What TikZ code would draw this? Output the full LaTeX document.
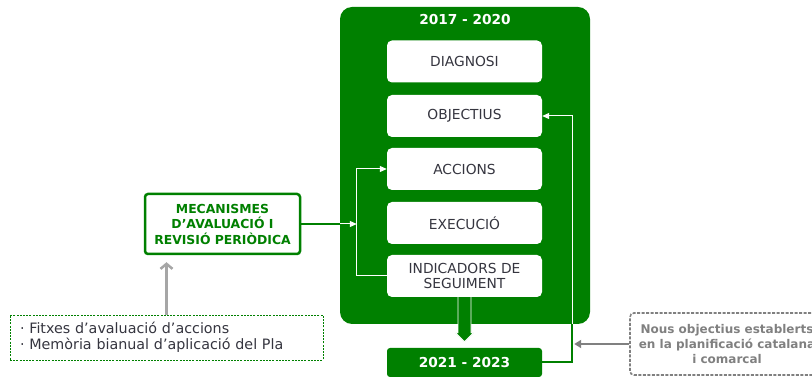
\documentclass[tikz,border=0pt]{standalone}
\usepackage{fontspec}
\setmainfont{DejaVu Sans}
\usetikzlibrary{arrows.meta,calc}
\definecolor{pgreen}{HTML}{008000}
\definecolor{ptext}{HTML}{35353F}
\definecolor{pgray}{HTML}{808080}
\definecolor{plight}{HTML}{A6A6A6}
\begin{document}
\begin{tikzpicture}[x=1pt,y=-1pt,
  stagebox/.style={fill=white, rounded corners=5pt, minimum width=155pt, minimum height=42pt,
    inner sep=0pt, align=center, text=ptext, font=\fontsize{13.8}{14.7}\selectfont},
  yearbox/.style={fill=pgreen, rounded corners=3pt, minimum width=155pt, minimum height=29pt,
    inner sep=0pt, text=white, font=\bfseries\fontsize{13.7}{15}\selectfont},
  wline/.style={draw=white, line width=1pt},
  wtip/.style={-{Triangle[length=7pt,width=6pt]}},
]
\useasboundingbox (0,0) rectangle (812,379);

% main period box
\node[fill=pgreen, rounded corners=12pt, minimum width=250pt, minimum height=317pt, inner sep=0pt]
  (period) at (465,165.5) {};
\node[text=white, font=\bfseries\fontsize{13.7}{15}\selectfont, inner sep=0pt] (t1) at (465,19.5) {2017 - 2020};

\node[stagebox] (diag) at (464.5,61.5) {DIAGNOSI};
\node[stagebox] (obj)  at (464.5,116) {OBJECTIUS};
\node[stagebox] (acc)  at (464.5,169) {ACCIONS};
\node[stagebox] (exe)  at (464.5,223) {EXECUCIÓ};
\node[stagebox] (ind)  at (464.5,276) {INDICADORS DE\\SEGUIMENT};

\node[yearbox] (y2) at (464.5,362.5) {2021 - 2023};

% block arrow from indicators to next period
\filldraw[fill=pgreen, draw=white, line width=0.8pt]
  ([shift={(-6.5,0)}]ind.south) -- ([shift={(-6.5,-15)}]y2.north)
  -- ([shift={(-9,-15)}]y2.north) -- ([shift={(0,-6)}]y2.north)
  -- ([shift={(9,-15)}]y2.north) -- ([shift={(6.5,-15)}]y2.north)
  -- ([shift={(6.5,0)}]ind.south);

% evaluation mechanisms
\node[draw=pgreen, line width=2.5pt, fill=white, rounded corners=3pt, minimum width=155pt, minimum height=60pt,
  inner sep=0pt, align=center, text=pgreen, font=\bfseries\fontsize{12.4}{15.5}\selectfont]
  (mec) at (222.5,224) {MECANISMES\\D’AVALUACIÓ I\\REVISIÓ PERIÒDICA};

\node[draw=pgreen, line width=0.7pt, dash pattern=on 2pt off 1.2pt, minimum width=313pt, minimum height=45pt,
  inner xsep=10pt, inner ysep=0pt, text width=293pt, align=left, text=ptext,
  font=\fontsize{14.3}{16}\selectfont]
  (fitx) at (166.5,337.5) {· Fitxes d’avaluació d’accions\\· Memòria bianual d’aplicació del Pla};

\node[draw=pgray, line width=1.6pt, dash pattern=on 3pt off 1.5pt, rounded corners=4pt,
  minimum width=194pt, minimum height=62pt, inner sep=0pt, align=center, text=pgray,
  font=\bfseries\fontsize{12}{15}\selectfont]
  (nous) at (727,344) {Nous objectius establerts\\en la planificació catalana\\i comarcal};

% feedback loop inside
\coordinate (lx) at ([xshift=-30pt]ind.west);
\draw[wline, wtip] (ind.west) -- (lx) |- (acc.west);

% mechanisms to loop
\draw[pgreen, line width=2.5pt] (mec.east) -- (period.west |- mec.east);
\draw[wline, wtip] (period.west |- mec.east) -- (lx |- mec.east);

% return line from next period to objectives
\coordinate (rx) at ([xshift=30pt]y2.east);
\draw[pgreen, line width=2pt] (y2.east) -| (rx |- period.south);
\draw[wline, wtip] (rx |- period.south) |- (obj.east);

% new objectives arrow
\draw[pgray, line width=2pt, -{Triangle[length=7pt,width=8pt]}, shorten >=2pt] (nous.west) -- (rx |- nous.west);

% fitxes up arrow
\draw[plight, line width=2.5pt, -{Straight Barb[length=5pt,width=12pt]}, shorten >=7pt]
  (fitx.north) -- (fitx.north |- mec.south);
\end{tikzpicture}
\end{document}
